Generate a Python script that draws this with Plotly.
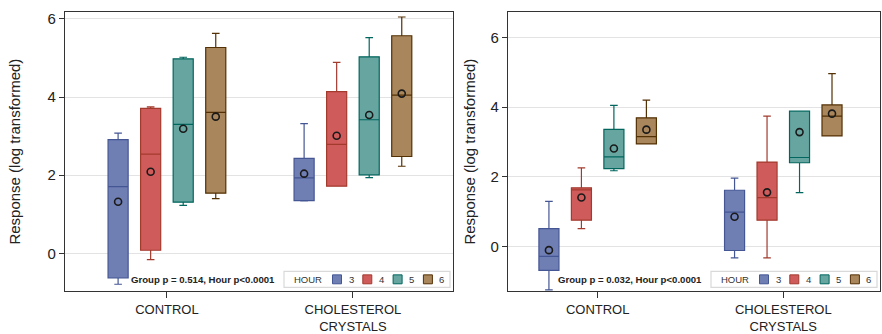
import plotly.graph_objects as go

# ---- data -------------------------------------------------------------
hours = ["3", "4", "5", "6"]
groups = ["CONTROL", "CHOLESTEROL<br>CRYSTALS"]

# per hour: [CONTROL, CHOLESTEROL CRYSTALS]
left_lower = [[-0.79, 1.34], [-0.16, 1.72], [1.23, 1.94], [1.40, 2.23]]
left_q1 = [[-0.63, 1.35], [0.08, 1.72], [1.31, 2.01], [1.54, 2.48]]
left_median = [[1.71, 1.93], [2.54, 2.79], [3.30, 3.42], [3.61, 4.05]]
left_q3 = [[2.91, 2.43], [3.71, 4.14], [4.98, 5.03], [5.27, 5.57]]
left_upper = [[3.08, 3.32], [3.75, 4.89], [5.02, 5.52], [5.63, 6.05]]
left_mean = [[1.32, 2.04], [2.09, 3.01], [3.19, 3.54], [3.50, 4.09]]

right_lower = [[-1.25, -0.33], [0.51, -0.33], [2.17, 1.54], [2.94, 3.17]]
right_q1 = [[-0.69, -0.12], [0.75, 0.75], [2.23, 2.40], [2.94, 3.17]]
right_median = [[-0.29, 0.98], [1.62, 1.40], [2.57, 2.55], [3.15, 3.74]]
right_q3 = [[0.51, 1.61], [1.68, 2.42], [3.36, 3.88], [3.69, 4.06]]
right_upper = [[1.29, 1.96], [2.25, 3.74], [4.05, 3.88], [4.20, 4.96]]
right_mean = [[-0.11, 0.85], [1.40, 1.55], [2.81, 3.28], [3.35, 3.81]]

left_note = "Group p = 0.514, Hour p<0.0001"
right_note = "Group p = 0.032, Hour p<0.0001"

fill_colors = ["#6F7EB3", "#D05B5B", "#66A5A0", "#A9865B"]
line_colors = ["#445694", "#A23A2E", "#01665E", "#543005"]

# ---- layout constants ---------------------------------------------------
W, H = 882, 334
FONT = "Liberation Sans, Arial, Helvetica, sans-serif"
SLOT = 0.175      # spacing between hour boxes inside a group (data units)
BOX_W = 0.108     # box width (data units)
group_pos = [0, 1]


def px(x):
    return x / W


def py(y):
    return 1 - y / H


panels = [
    dict(xa="x", ya="y", lower=left_lower, q1=left_q1, med=left_median,
         q3=left_q3, upper=left_upper, mean=left_mean, note=left_note,
         frame=(65, 453), xrange=[-0.548, 1.538], yrange=[-0.97, 6.18],
         ytitle_x=15),
    dict(xa="x2", ya="y2", lower=right_lower, q1=right_q1, med=right_median,
         q3=right_q3, upper=right_upper, mean=right_mean, note=right_note,
         frame=(508, 880), xrange=[-0.483, 1.521], yrange=[-1.29, 6.73],
         ytitle_x=470),
]

TOP, BOTTOM = 10, 291

fig = go.Figure()

for p in panels:
    for h, hour in enumerate(hours):
        xs = [g + (h - 1.5) * SLOT for g in group_pos]
        fig.add_trace(go.Box(
            x=xs,
            lowerfence=p["lower"][h], q1=p["q1"][h], median=p["med"][h],
            q3=p["q3"][h], upperfence=p["upper"][h],
            width=BOX_W, whiskerwidth=0.38,
            fillcolor=fill_colors[h],
            line=dict(color=line_colors[h], width=1.2),
            boxpoints=False, showlegend=False, hoverinfo="skip",
            xaxis=p["xa"], yaxis=p["ya"],
        ))
        fig.add_trace(go.Scatter(
            x=xs, y=p["mean"][h], mode="markers",
            marker=dict(symbol="circle-open", size=7, color="#1a1a1a",
                        line=dict(width=1.6, color="#1a1a1a")),
            showlegend=False, hoverinfo="skip",
            xaxis=p["xa"], yaxis=p["ya"],
        ))

shapes = []
annotations = []
for p in panels:
    x0, x1 = p["frame"]
    # legend box
    lg_r = x1 - 3
    lg_l = lg_r - 166
    lg_t, lg_b = 271, 287
    cy = (lg_t + lg_b) / 2
    shapes.append(dict(type="rect", xref="paper", yref="paper",
                       x0=px(lg_l), x1=px(lg_r), y0=py(lg_b), y1=py(lg_t),
                       line=dict(color="#d9d9d9", width=1.2),
                       fillcolor="white", layer="above"))
    annotations.append(dict(text="HOUR", xref="paper", yref="paper",
                            x=px(lg_l + 8), y=py(cy), xanchor="left",
                            yanchor="middle", showarrow=False,
                            font=dict(family=FONT, size=9.5, color="#333")))
    for h, hour in enumerate(hours):
        sx = lg_l + 48.5 + h * 30.3
        shapes.append(dict(type="rect", xref="paper", yref="paper",
                           x0=px(sx), x1=px(sx + 9),
                           y0=py(cy + 4.5), y1=py(cy - 4.5),
                           fillcolor=fill_colors[h],
                           line=dict(color=line_colors[h], width=1),
                           layer="above"))
        annotations.append(dict(text=hour, xref="paper", yref="paper",
                                x=px(sx + 14), y=py(cy), xanchor="left",
                                yanchor="middle", showarrow=False,
                                font=dict(family=FONT, size=9.5, color="#333")))
    # statistics note
    annotations.append(dict(text="<b>" + p["note"] + "</b>", xref="paper",
                            yref="paper", x=px(lg_l - 7), y=py(cy),
                            xanchor="right", yanchor="middle", showarrow=False,
                            font=dict(family=FONT, size=9.6, color="#222")))
    # y axis title
    annotations.append(dict(text="Response (log transformed)", xref="paper",
                            yref="paper", x=px(p["ytitle_x"]),
                            y=py((TOP + BOTTOM) / 2), textangle=-90,
                            xanchor="center", yanchor="middle",
                            showarrow=False,
                            font=dict(family=FONT, size=15, color="#222")))

axis_common = dict(showline=True, mirror=True, linecolor="#333333",
                   linewidth=1.2, zeroline=False)

layout = dict(
    width=W, height=H,
    margin=dict(l=0, r=0, t=0, b=0),
    paper_bgcolor="white", plot_bgcolor="white",
    font=dict(family=FONT, color="#222"),
    shapes=shapes, annotations=annotations,
)

for i, p in enumerate(panels):
    sfx = "" if i == 0 else "2"
    x0, x1 = p["frame"]
    layout["xaxis" + sfx] = dict(
        domain=[px(x0), px(x1)], range=p["xrange"],
        tickvals=group_pos, ticktext=groups,
        ticks="outside", ticklen=6, tickwidth=1.2, tickcolor="#333",
        showgrid=False, anchor="y" + sfx,
        tickfont=dict(family=FONT, size=13, color="#222"),
        **axis_common)
    layout["yaxis" + sfx] = dict(
        domain=[py(BOTTOM), py(TOP)], range=p["yrange"],
        tickvals=[0, 2, 4, 6], ticks="outside", ticklen=5, tickwidth=1.2,
        tickcolor="#333", showgrid=True, gridcolor="#e3e3e3", gridwidth=1.2,
        anchor="x" + sfx,
        tickfont=dict(family=FONT, size=15, color="#222"),
        **axis_common)

fig.update_layout(**layout)
fig.write_html("out.html")
